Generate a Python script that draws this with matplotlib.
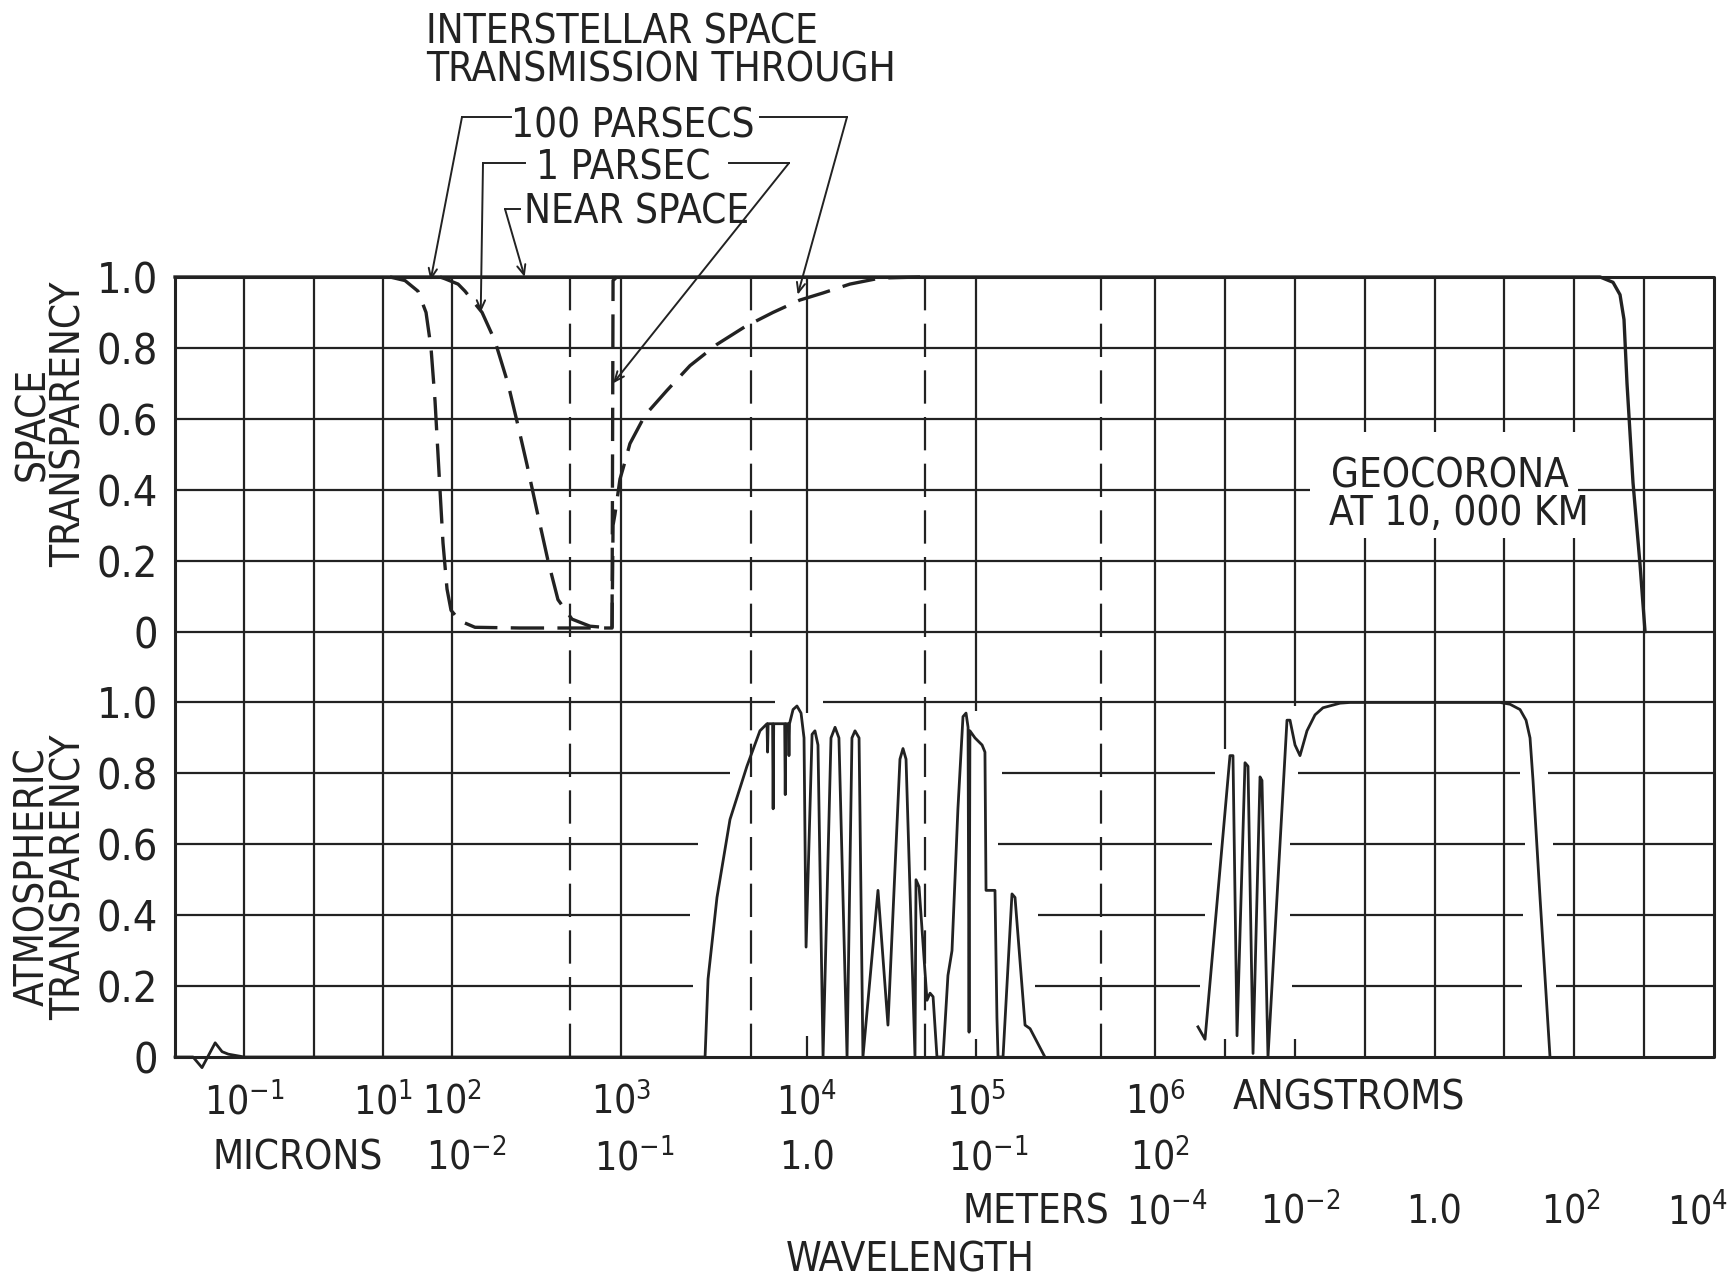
import numpy as np
import matplotlib
matplotlib.use("Agg")
import matplotlib.pyplot as plt
from matplotlib import font_manager, transforms
from matplotlib.patches import Rectangle

W, H = 1736, 1278
INK = "#222222"


def pick_narrow():
    # the lettering on the original is a narrow sans; use one if it is installed
    for fam in ("Liberation Sans Narrow", "Liberation Sans", "DejaVu Sans", "Roboto",
                "Open Sans", "Noto Sans"):
        for f in font_manager.fontManager.ttflist:
            low = f.fname.lower()
            if f.name != fam or not ("narrow" in low or "condensed" in low):
                continue
            if any(w in low for w in ("bold", "italic", "oblique", "light", "black")):
                continue
            return fam, f.stretch
    return None


narrow = pick_narrow()
if narrow:
    FONT, STRETCH = narrow
    TXT, TICK, YT = 29, 28, 31
else:
    FONT, STRETCH = "DejaVu Sans", "normal"
    TXT, TICK, YT = 26, 25, 29
plt.rcParams["font.family"] = [FONT, "DejaVu Sans"]
plt.rcParams["font.stretch"] = STRETCH
plt.rcParams["mathtext.fontset"] = "custom"
for k in ("rm", "it", "bf", "sf"):
    plt.rcParams["mathtext." + k] = f"{FONT}:stretch={STRETCH}"
plt.rcParams["text.color"] = INK

# ---- data: x = log10(wavelength / angstrom), y = transparency

# near space (solid), cut off by the geocorona at the long wave end
near_x = [-2.0, 12.37, 12.555, 12.655, 12.712, 12.755, 12.841, 12.941, 13.013]
near_y = [1.0, 1.0, 0.985, 0.95, 0.88, 0.70, 0.42, 0.19, 0.0]

# interstellar, 100 parsecs (dashed)
pc100_x = [1.105, 1.321, 1.509, 1.625, 1.697, 1.755, 1.812, 1.870, 1.928, 1.986,
           2.047, 2.136, 2.402, 2.947, 2.953, 2.964, 2.994, 3.022, 3.048, 3.129,
           3.247, 3.371, 3.516, 3.667, 3.817, 3.962, 4.095, 4.254, 4.432, 4.669]
pc100_y = [1.0, 0.99, 0.96, 0.90, 0.80, 0.65, 0.45, 0.25, 0.12, 0.06,
           0.03, 0.012, 0.01, 0.01, 0.30, 0.33, 0.43, 0.48, 0.53, 0.61,
           0.68, 0.75, 0.81, 0.86, 0.90, 0.935, 0.955, 0.98, 0.997, 1.0]

# interstellar, 1 parsec (dashed)
pc1_x = [1.827, 1.899, 2.036, 2.077, 2.178, 2.254, 2.331, 2.391, 2.444, 2.503,
         2.568, 2.627, 2.710, 2.817, 2.947, 2.953, 2.975]
pc1_y = [1.0, 0.995, 0.98, 0.96, 0.90, 0.82, 0.70, 0.58, 0.47, 0.34,
         0.20, 0.09, 0.035, 0.015, 0.01, 0.99, 1.0]

# atmosphere (solid): gamma wiggle, optical / infrared windows, radio window
atm_x = [-2.0, -1.74, -1.61, -1.42, -1.32, -1.23, -1.0,
         3.452, 3.468, 3.516, 3.586, 3.677, 3.747, 3.785,
         3.788, 3.791, 3.815, 3.818, 3.821, 3.880, 3.883, 3.886, 3.900, 3.903, 3.906,
         3.925, 3.946, 3.968, 3.984, 3.995, 4.030, 4.047, 4.065, 4.095,
         4.142, 4.166, 4.189, 4.237,
         4.266, 4.284, 4.308, 4.331,
         4.420, 4.479, 4.550, 4.568, 4.586, 4.639,
         4.645, 4.663, 4.710, 4.728, 4.746, 4.769,
         4.805, 4.834, 4.858, 4.893, 4.923, 4.941, 4.953, 4.959, 4.964, 4.994,
         5.034, 5.050, 5.056, 5.106, 5.117, 5.123, 5.151, 5.201, 5.218, 5.274,
         5.302, 5.385,
         np.nan,
         6.615, 6.716, 7.073, 7.116, 7.174, 7.288, 7.331, 7.403, 7.503, 7.531,
         7.617, 7.889, 7.932, 8.004, 8.075, 8.118, 8.175, 8.290, 8.404, 8.648,
         8.791, 10.937, 11.080, 11.224, 11.310, 11.367, 11.410, 11.510, 11.653]
atm_y = [0.0, 0.0, -0.03, 0.04, 0.015, 0.008, 0.0,
         0.0, 0.22, 0.45, 0.67, 0.82, 0.92, 0.94,
         0.86, 0.94, 0.94, 0.70, 0.94, 0.94, 0.74, 0.94, 0.94, 0.85, 0.94,
         0.98, 0.99, 0.97, 0.90, 0.31, 0.91, 0.92, 0.88, 0.0,
         0.90, 0.93, 0.90, 0.0,
         0.90, 0.92, 0.90, 0.0,
         0.47, 0.09, 0.84, 0.87, 0.84, 0.0,
         0.50, 0.48, 0.16, 0.18, 0.17, 0.0,
         0.0, 0.23, 0.30, 0.70, 0.96, 0.97, 0.93, 0.07, 0.92, 0.90,
         0.88, 0.86, 0.47, 0.47, 0.11, 0.0, 0.0, 0.46, 0.45, 0.09,
         0.08, 0.0,
         np.nan,
         0.085, 0.05, 0.85, 0.85, 0.06, 0.83, 0.82, 0.01, 0.79, 0.78,
         0.0, 0.95, 0.95, 0.88, 0.85, 0.88, 0.92, 0.965, 0.985, 0.998,
         1.0, 1.0, 0.995, 0.98, 0.95, 0.90, 0.78, 0.45, 0.0]

y_ticks = [0, 0.2, 0.4, 0.6, 0.8, 1.0]
y_labels = ["0", "0.2", "0.4", "0.6", "0.8", "1.0"]

ang_ticks = [-1, 1, 2, 3, 4, 5, 6]
ang_labels = ["10$^{-1}$", "10$^{1}$", "10$^{2}$", "10$^{3}$", "10$^{4}$", "10$^{5}$", "10$^{6}$"]
micron_ticks = [2, 3, 4, 5, 6]
micron_labels = ["10$^{-2}$", "10$^{-1}$", "1.0", "10$^{-1}$", "10$^{2}$"]
meter_ticks = [6, 8, 10, 12, 14]
meter_labels = ["10$^{-4}$", "10$^{-2}$", "1.0", "10$^{2}$", "10$^{4}$"]

# ---- the wavelength axis is drawn in pieces: one cell per decade at both ends,
# wider decades from 10^2 to 10^6 angstroms
AXIS_LOG = [-12, -2, 2, 3, 4, 5, 6, 14, 24]
AXIS_POS = [175 - 692.5, 175, 452, 621, 807, 976, 1155, 1714, 1714 + 698.75]


def fwd(x):
    return np.interp(x, AXIS_LOG, AXIS_POS)


def inv(p):
    return np.interp(p, AXIS_POS, AXIS_LOG)


L, R, TOP, BOT = 175, 1714, 277, 1057
U = (BOT - TOP) / 2.2
SP0, AT1 = BOT - 1.2 * U, BOT - U


def box(top, bot):
    return [L / W, 1 - bot / H, (R - L) / W, (bot - top) / H]


fig = plt.figure(figsize=(W / 100, H / 100), dpi=100)
fig.patch.set_facecolor("white")

# grid axes: atmosphere 0..1, one empty row, space 1.2..2.2
ax = fig.add_axes(box(TOP, BOT))
ax.set_xscale("function", functions=(fwd, inv))
ax.set_xlim(-2, 14)
ax.set_ylim(0, 2.2)
ax.set_xticks([])
ax.axis("off")

ax_sp = fig.add_axes(box(TOP, SP0), sharex=ax)
ax_at = fig.add_axes(box(AT1, BOT), sharex=ax)
for a in (ax_sp, ax_at):
    a.patch.set_visible(False)
    for s in a.spines.values():
        s.set_visible(False)
    a.set_ylim(0, 1)
    a.set_yticks(y_ticks, y_labels)
    a.tick_params(axis="y", length=0, pad=12, labelsize=YT, colors=INK)
    a.tick_params(axis="x", bottom=False, labelbottom=False)

# grid, with the breaks the draftsman left inside the windows
ROW_GAPS = {0.2: [(693, 1035), (1200, 1292), (1522, 1556)],
            0.4: [(690, 1038), (1205, 1290), (1523, 1557)],
            0.6: [(698, 998), (1212, 1290), (1525, 1553)],
            0.8: [(730, 1002), (1215, 1298), (1520, 1548)],
            1.0: [(775, 823)]}
COL_GAPS = {4: (0.06, 0.97), 5: (0.05, 0.975), 7: (0.05, 0.87), 8: (0.05, 0.99)}
glw = 1.6
for r in np.round(np.arange(0.2, 2.01, 0.2), 1):
    edges = [L] + [p for g in ROW_GAPS.get(r, []) for p in g] + [R]
    for a0, b0 in zip(edges[::2], edges[1::2]):
        ax.plot(inv([a0, b0]), [r, r], color=INK, lw=glw, solid_capstyle="butt", clip_on=False)
for d in range(-1, 14):
    g = COL_GAPS.get(d)
    spans = [(0, g[0]), (g[1], 2.2)] if g else [(0, 2.2)]
    for y0, y1 in spans:
        ax.plot([d, d], [y0, y1], color=INK, lw=glw, solid_capstyle="butt", clip_on=False)
for d in np.log10(5) + np.arange(2, 6):
    ax.plot([d, d], [0, 2.2], color=INK, lw=glw, dashes=(15, 6), clip_on=False)
ax.plot([-2, 14, 14, -2, -2], [0, 0, 2.2, 2.2, 0], color=INK, lw=2.2, clip_on=False)

# curves
ax_sp.plot(near_x, near_y, color=INK, lw=2.4, clip_on=False)
ax_sp.plot(pc100_x, pc100_y, color=INK, lw=2.4, dashes=(10, 4), clip_on=False)
ax_sp.plot(pc1_x, pc1_y, color=INK, lw=2.4, dashes=(10, 4), clip_on=False)
ax_at.plot(atm_x, atm_y, color=INK, lw=2.0, clip_on=False)

# overlay in figure pixels for lettering and leaders
ov = fig.add_axes([0, 0, 1, 1])
ov.set_xlim(0, W)
ov.set_ylim(H, 0)
ov.axis("off")
ov.patch.set_visible(False)

ov.text(426, 43, "INTERSTELLAR SPACE", fontsize=TXT, va="baseline")
ov.text(426, 82, "TRANSMISSION THROUGH", fontsize=TXT, va="baseline")
ov.text(633, 137, "100 PARSECS", fontsize=TXT, va="baseline", ha="center")
ov.text(623, 180, "1 PARSEC", fontsize=TXT, va="baseline", ha="center")
ov.text(524, 223, "NEAR SPACE", fontsize=TXT, va="baseline")

arrow = dict(arrowstyle="->,head_length=0.7,head_width=0.3", color=INK, lw=1.4,
             shrinkA=0, shrinkB=0)
leaders = [((511, 117), (462, 117), (1.69, 0.99)),
           ((760, 117), (847, 117), (3.95, 0.95)),
           ((525, 163), (483, 163), (2.17, 0.90)),
           ((729, 163), (789, 163), (2.953, 0.70)),
           ((520, 209), (505, 209), (2.43, 1.0))]
for start, corner, tip in leaders:
    ov.plot([start[0], corner[0]], [start[1], corner[1]], color=INK, lw=1.4)
    ov.annotate("", xy=tip, xycoords=ax_sp.transData, xytext=corner,
                textcoords=ov.transData, arrowprops=arrow)

# geocorona note on a cleared patch of the grid
ov.add_patch(Rectangle((1310, 432), 268, 106, facecolor="white", edgecolor="none"))
ov.text(1331, 487, "GEOCORONA", fontsize=TXT, va="baseline")
ov.text(1329, 525, "AT 10, 000 KM", fontsize=TXT, va="baseline")

# axis titles
ov.text(33, 424, "SPACE", fontsize=TXT, rotation=90, ha="center", va="center")
ov.text(70, 424, "TRANSPARENCY", fontsize=TXT, rotation=90, ha="center", va="center")
ov.text(33, 877, "ATMOSPHERIC", fontsize=TXT, rotation=90, ha="center", va="center")
ov.text(70, 877, "TRANSPARENCY", fontsize=TXT, rotation=90, ha="center", va="center")

# wavelength scales
bt = transforms.blended_transform_factory(ax.transData, ov.transData)


def scale_row(ticks, labels, base, shifts):
    for t, s, dx in zip(ticks, labels, shifts):
        tr = bt + transforms.ScaledTranslation(dx / 100, 0, fig.dpi_scale_trans)
        ov.text(t, base, s, transform=tr, fontsize=TICK, ha="center", va="baseline")


scale_row(ang_ticks, ang_labels, 1113, [0] * len(ang_ticks))
scale_row(micron_ticks, micron_labels, 1170, [14, 13, 0, 12, 5])
scale_row(meter_ticks, meter_labels, 1223, [12, 6, 0, -3, -16])
ov.text(1233, 1109, "ANGSTROMS", fontsize=TXT, va="baseline")
ov.text(213, 1170, "MICRONS", fontsize=TXT, va="baseline")
ov.text(962, 1223, "METERS", fontsize=TXT, va="baseline")
ov.text(910, 1271, "WAVELENGTH", fontsize=TXT, va="baseline", ha="center")

fig.savefig("out.png", dpi=100, facecolor="white")
